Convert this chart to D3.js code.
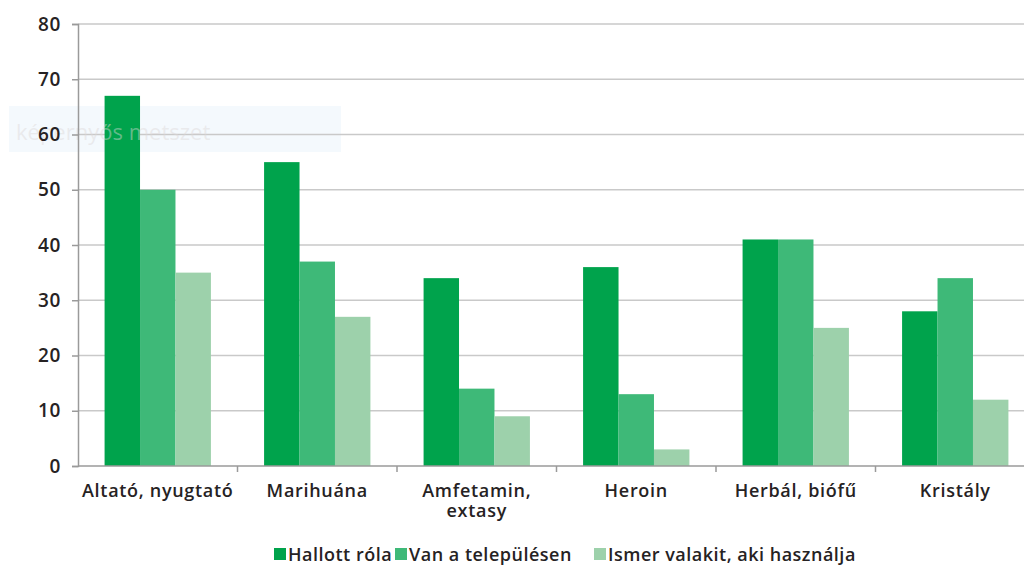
<!DOCTYPE html>
<html>
<head>
<meta charset="utf-8">
<script src="https://cdn.jsdelivr.net/npm/d3@7"></script>
<style>
  html, body { margin: 0; padding: 0; background: #fff; }
  svg { display: block; }
  text { font-family: "Open Sans", "Noto Sans", sans-serif; }
</style>
</head>
<body>
<svg id="chart" width="1024" height="566"></svg>
<script>
// Drug awareness survey, percent of respondents
const categories = ["Altató, nyugtató", "Marihuána", "Amfetamin,\nextasy", "Heroin", "Herbál, biófű", "Kristály"];
const seriesNames = ["Hallott róla", "Van a településen", "Ismer valakit, aki használja"];
const heardOf = [67, 55, 34, 36, 41, 28];
const inTown = [50, 37, 14, 13, 41, 34];
const knowsUser = [35, 27, 9, 3, 25, 12];
const yTicks = [0, 10, 20, 30, 40, 50, 60, 70, 80];
const colors = ["#00a34c", "#3eb978", "#9dd1ab"];

const series = [heardOf, inTown, knowsUser];
const textColor = "#262223";

const svg = d3.select("#chart");
const plotLeft = 78, plotRight = 1035, plotTop = 24, plotBottom = 466;

const x = d3.scaleBand().domain(categories).range([plotLeft, plotRight]).paddingInner(0).paddingOuter(0);
const x1 = d3.scaleBand().domain(seriesNames).range([0, x.bandwidth()]).paddingInner(0).paddingOuter(0.75);
const y = d3.scaleLinear().domain([0, 80]).range([plotBottom, plotTop]);

// faint caption panel in the upper left
svg.append("rect").attr("x", 9).attr("y", 106).attr("width", 332).attr("height", 46)
  .attr("fill", "#f4f9fd");

// horizontal grid
svg.append("g").selectAll("line").data(yTicks.filter(d => d > 0)).join("line")
  .attr("x1", plotLeft).attr("x2", 1024)
  .attr("y1", d => y(d)).attr("y2", d => y(d))
  .attr("stroke", "#c9c9c9").attr("stroke-width", 1.5);

// bars
const groups = svg.append("g").selectAll("g").data(categories).join("g")
  .attr("transform", d => `translate(${x(d)},0)`);
groups.selectAll("rect").data((c, i) => seriesNames.map((s, j) => ({ s, v: series[j][i], j })))
  .join("rect")
  .attr("x", d => x1(d.s))
  .attr("width", x1.bandwidth())
  .attr("y", d => y(d.v))
  .attr("height", d => y(0) - y(d.v))
  .attr("fill", d => colors[d.j]);

// caption text, barely visible
svg.append("text").attr("x", 16).attr("y", 140).text("képernyős metszet")
  .style("font-size", "22px").style("fill", "#ddd8d8").style("fill-opacity", 0.45);

// y axis
const yAxis = svg.append("g").attr("transform", `translate(${plotLeft},0)`)
  .call(d3.axisLeft(y).tickValues(yTicks).tickSize(6).tickPadding(11));
yAxis.select(".domain").attr("stroke", "#9a9a9a").attr("stroke-width", 1.5);
yAxis.selectAll(".tick line").attr("stroke", "#9a9a9a").attr("stroke-width", 1.5);
yAxis.selectAll(".tick text")
  .style("font-size", "19px").style("font-weight", 600).style("letter-spacing", "0.6px")
  .style("font-family", "'Open Sans', sans-serif").style("fill", textColor);

// x axis
const xAxis = svg.append("g").attr("transform", `translate(0,${plotBottom})`);
xAxis.append("line").attr("x1", plotLeft).attr("x2", 1024).attr("stroke", "#9a9a9a").attr("stroke-width", 1.5);
xAxis.selectAll(".tk").data(categories.slice(1)).join("line").attr("class", "tk")
  .attr("x1", d => x(d)).attr("x2", d => x(d)).attr("y1", 0).attr("y2", 6)
  .attr("stroke", "#9a9a9a").attr("stroke-width", 1.5);
xAxis.selectAll("text").data(categories).join("text")
  .attr("text-anchor", "middle")
  .attr("transform", d => `translate(${x(d) + x.bandwidth() / 2},31)`)
  .style("font-size", "18px").style("font-weight", 600).style("letter-spacing", "0.7px")
  .style("fill", textColor)
  .selectAll("tspan").data(d => d.split("\n")).join("tspan")
  .attr("x", 0).attr("dy", (d, i) => i ? 20 : 0).text(d => d);

// legend
const legendX = [274, 395, 594];
const legend = svg.append("g").selectAll("g").data(seriesNames).join("g")
  .attr("transform", (d, i) => `translate(${legendX[i]},548)`);
legend.append("rect").attr("width", 12).attr("height", 12).attr("fill", (d, i) => colors[i]);
legend.append("text").attr("x", 14).attr("y", 12.5).text(d => d)
  .style("font-size", "18px").style("font-weight", 600).style("letter-spacing", "0.5px")
  .style("fill", textColor);
</script>
</body>
</html>
